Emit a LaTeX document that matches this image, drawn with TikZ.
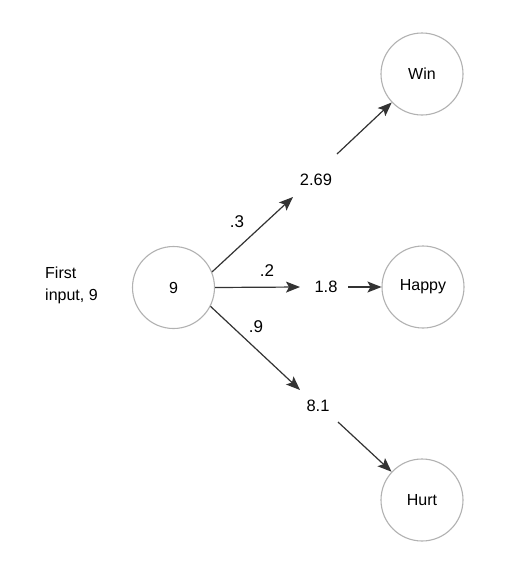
\documentclass[tikz,border=0pt]{standalone}
\usepackage{fontspec}
\setmainfont{Liberation Sans}
\usetikzlibrary{arrows.meta}
\begin{document}
\begin{tikzpicture}[x=1pt,y=-1pt,
  neuron/.style={circle,draw=black!30,line width=1.1pt,minimum size=82pt,inner sep=0pt,font=\fontsize{16}{19}\selectfont},
  val/.style={inner sep=2pt,font=\fontsize{16.5}{19}\selectfont},
  wt/.style={inner sep=1pt,font=\fontsize{17}{19}\selectfont},
  arr/.style={draw=black!80,line width=1.2pt,-{Stealth[length=14pt,width=11pt,inset=3pt]}}]
\useasboundingbox (0,0) rectangle (506,566);
\fill[white] (0,0) rectangle (506,566);
% nodes
\node[neuron] (nine) at (173.5,287.5) {9};
\node[neuron] (win) at (422,74) {Win};
\node[neuron] (happy) at (423,287) {Happy};
\node[neuron] (hurt) at (422,500) {Hurt};
\node[val] (v269) at (316,180) {2.69};
\node[val] (v18) at (326,287) {1.8};
\node[val] (v81) at (318,406) {8.1};
\node[align=left,inner sep=0pt,font=\fontsize{16}{22}\selectfont,anchor=west] (inp) at (45,285) {First\\input, 9};
% connector end points
\coordinate (t269) at (293,197);
\coordinate (s269) at (337,154);
\coordinate (t18) at (300,287);
\coordinate (s18) at (348,287);
\coordinate (t81) at (300,390);
\coordinate (s81) at (338,422);
% connectors
\draw[arr] (nine.22) -- (t269);
\draw[arr] (nine.east) -- (t18);
\draw[arr] (nine.333) -- (t81);
\draw[arr] (s269) -- (win);
\draw[arr] (s18) -- (happy);
\draw[arr] (s81) -- (hurt);
% weights
\node[wt] (w3) at (237,222) {.3};
\node[wt] (w2) at (267,271) {.2};
\node[wt] (w9) at (256,327) {.9};
\end{tikzpicture}
\end{document}
